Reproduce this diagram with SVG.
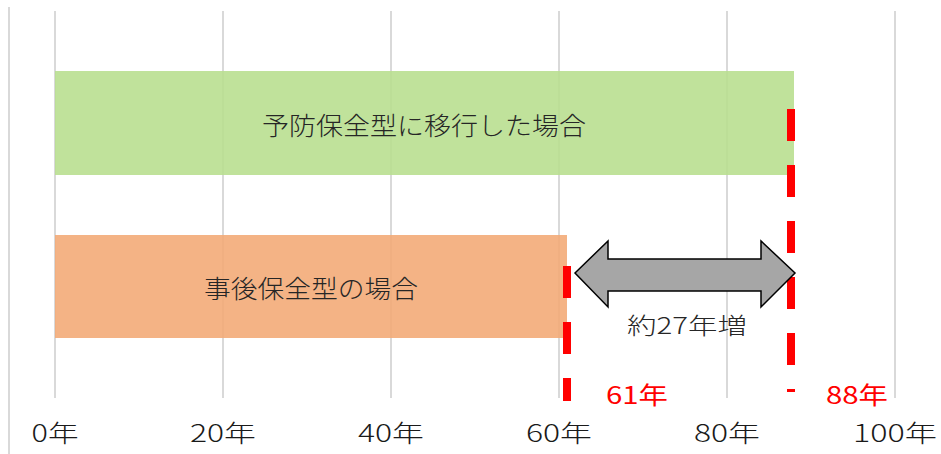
<svg xmlns="http://www.w3.org/2000/svg" width="941" height="454" viewBox="0 0 941 454">
<style>
.grid{stroke:#d9d9d9;stroke-width:2;fill:none}
.lbl{font-family:"Noto Sans CJK JP","Liberation Sans",sans-serif;font-weight:300;fill:#262626;text-anchor:middle}
.ax{font-family:"Noto Sans CJK JP","Liberation Sans",sans-serif;font-weight:300;fill:#1a1a1a;font-size:24px;text-anchor:middle}
.red{font-family:"Noto Sans CJK JP","Liberation Sans",sans-serif;fill:#ff0000;font-size:24px;text-anchor:middle}
.dash{stroke:#ff0000;stroke-width:8;stroke-dasharray:32 24;fill:none}
</style>
<rect width="941" height="454" fill="#ffffff"/>
<g id="grid">
<line class="grid" x1="9" y1="7" x2="9" y2="454"/>
<line class="grid" x1="55" y1="11" x2="55" y2="398"/>
<line class="grid" x1="223" y1="11" x2="223" y2="398"/>
<line class="grid" x1="391" y1="11" x2="391" y2="398"/>
<line class="grid" x1="559" y1="11" x2="559" y2="398"/>
<line class="grid" x1="727" y1="11" x2="727" y2="398"/>
<line class="grid" x1="895" y1="11" x2="895" y2="398"/>
</g>
<g id="bar-preventive">
<rect x="55" y="71" width="739" height="104" fill="#b7de8d" fill-opacity="0.88"/>
<text class="lbl" x="424" y="135" font-size="25" textLength="324" lengthAdjust="spacingAndGlyphs">予防保全型に移行した場合</text>
</g>
<g id="bar-reactive">
<rect x="55" y="235" width="512" height="103" fill="#f3a874" fill-opacity="0.88"/>
<text class="lbl" x="311" y="298" font-size="25" textLength="214" lengthAdjust="spacingAndGlyphs">事後保全型の場合</text>
</g>
<g id="marker-61">
<line class="dash" x1="567" y1="266" x2="567" y2="401"/>
<text class="red" x="637" y="404" textLength="62" lengthAdjust="spacingAndGlyphs">61年</text>
</g>
<g id="marker-88">
<line class="dash" x1="791" y1="109" x2="791" y2="392"/>
<text class="red" x="857" y="404" textLength="62" lengthAdjust="spacingAndGlyphs">88年</text>
</g>
<g id="connectors">
<path d="M575,273 L608,241 L608,259 L761,259 L761,241 L795,273 L761,307 L761,291 L608,291 L608,307 Z" fill="#a6a6a6" stroke="#000000" stroke-width="1.5" stroke-linejoin="miter"/>
</g>
<g id="diff-label">
<text class="lbl" x="687" y="334" font-size="23" textLength="120" lengthAdjust="spacingAndGlyphs">約27年増</text>
</g>
<g id="axis-labels">
<text class="ax" x="55" y="442" textLength="47" lengthAdjust="spacingAndGlyphs">0年</text>
<text class="ax" x="223" y="442" textLength="66" lengthAdjust="spacingAndGlyphs">20年</text>
<text class="ax" x="391" y="442" textLength="66" lengthAdjust="spacingAndGlyphs">40年</text>
<text class="ax" x="559" y="442" textLength="66" lengthAdjust="spacingAndGlyphs">60年</text>
<text class="ax" x="727" y="442" textLength="66" lengthAdjust="spacingAndGlyphs">80年</text>
<text class="ax" x="895" y="442" textLength="84" lengthAdjust="spacingAndGlyphs">100年</text>
</g>
</svg>
